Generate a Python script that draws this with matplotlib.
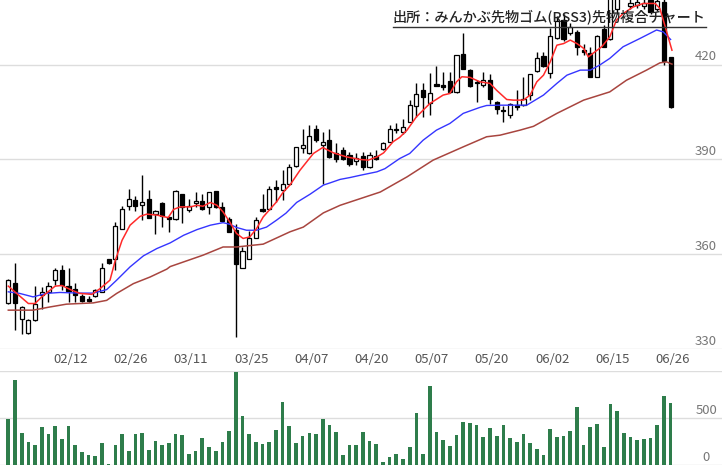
import matplotlib
matplotlib.use("Agg")
import matplotlib.pyplot as plt
from matplotlib.lines import Line2D

plt.rcParams['font.family'] = ['Noto Sans CJK JP', 'DejaVu Sans']

# OHLC (100 sessions)
opens = [344.6, 351.0, 339.6, 335.1, 339.3, 347.0, 348.2, 352.0, 354.9, 350.1,
         349.1, 346.7, 345.7, 346.8, 348.1, 358.4, 358.6, 368.1, 375.3, 377.1,
         375.7, 377.6, 372.9, 376.1, 371.6, 371.3, 379.0, 373.9, 376.1, 376.8,
         375.0, 380.0, 375.0, 371.3, 367.6, 355.7, 358.6, 365.3, 374.2, 374.2,
         381.3, 380.3, 382.4, 387.9, 393.5, 391.9, 399.8, 394.7, 396.1, 392.1,
         392.9, 391.4, 389.6, 391.0, 387.5, 391.0, 393.2, 395.6, 399.8, 398.8,
         402.0, 406.9, 411.9, 407.9, 413.8, 413.5, 414.8, 411.4, 423.4, 418.3,
         414.6, 413.5, 415.3, 408.2, 405.8, 404.0, 407.2, 407.2, 410.4, 418.0,
         422.7, 417.4, 428.4, 434.1, 429.9, 430.4, 424.6, 423.6, 416.2, 431.2,
         428.0, 437.5, 441.0, 438.5, 438.8, 438.6, 440.5, 437.5, 439.9, 422.3]
highs = [352.2, 357.2, 343.5, 339.5, 349.9, 349.6, 351.2, 355.5, 356.7, 355.5,
         350.9, 347.3, 346.7, 349.0, 357.2, 358.6, 370.2, 375.2, 380.6, 378.4,
         385.0, 380.5, 373.9, 376.4, 371.9, 380.3, 379.2, 377.6, 379.7, 379.0,
         379.8, 380.1, 376.4, 371.9, 369.7, 362.3, 367.3, 371.9, 379.2, 381.5,
         383.4, 386.8, 388.7, 394.0, 399.8, 400.9, 400.9, 398.7, 399.8, 395.3,
         394.0, 392.4, 391.9, 392.4, 392.4, 392.9, 395.5, 400.9, 401.4, 402.7,
         408.8, 414.1, 414.1, 417.4, 419.6, 417.8, 417.8, 423.2, 430.2, 418.5,
         415.1, 417.8, 417.1, 408.4, 406.9, 407.9, 412.0, 416.2, 417.2, 424.1,
         424.1, 431.5, 435.3, 436.0, 433.2, 431.0, 426.7, 425.7, 429.3, 432.5,
         443.0, 443.0, 445.0, 441.0, 441.0, 441.0, 442.0, 441.5, 441.0, 422.5]
lows = [344.3, 336.1, 334.9, 334.8, 339.0, 342.8, 344.9, 350.2, 348.6, 344.9,
        344.9, 345.0, 345.0, 346.5, 348.0, 357.0, 354.9, 368.0, 373.9, 373.7,
        370.8, 371.4, 366.5, 368.6, 367.1, 371.0, 370.0, 373.4, 375.0, 373.9,
        372.9, 374.8, 370.2, 366.9, 333.8, 355.5, 358.4, 365.1, 373.5, 374.0,
        376.6, 377.1, 382.2, 387.7, 391.9, 391.7, 395.6, 382.2, 390.6, 389.2,
        389.8, 387.9, 388.2, 386.6, 387.2, 389.8, 393.0, 395.4, 398.4, 398.0,
        401.8, 403.5, 403.5, 404.0, 413.2, 412.0, 411.2, 411.2, 418.6, 413.0,
        408.2, 412.8, 407.7, 404.5, 401.9, 403.0, 405.6, 407.0, 408.8, 417.8,
        419.3, 415.7, 428.2, 427.5, 429.4, 423.0, 423.0, 416.0, 416.0, 425.5,
        427.8, 436.0, 440.8, 437.5, 438.0, 437.5, 436.0, 437.0, 419.9, 406.3]
closes = [351.8, 344.6, 343.3, 339.3, 344.2, 348.2, 350.1, 354.9, 350.2, 348.3,
          347.0, 345.2, 345.3, 348.6, 355.8, 357.2, 368.9, 374.2, 377.6, 375.3,
          376.4, 371.6, 373.6, 372.0, 371.3, 380.0, 375.0, 375.2, 376.8, 374.2,
          379.7, 375.0, 370.5, 367.1, 356.8, 361.0, 365.0, 371.0, 373.7, 380.8,
          380.6, 382.1, 387.5, 393.8, 394.5, 397.4, 396.3, 395.6, 390.8, 390.3,
          390.0, 388.7, 390.6, 387.7, 391.4, 390.0, 395.3, 399.8, 399.3, 400.4,
          407.2, 410.7, 409.8, 411.1, 413.4, 413.0, 411.4, 423.0, 418.8, 413.2,
          414.1, 415.1, 409.0, 406.1, 405.4, 407.7, 406.7, 409.0, 417.0, 422.0,
          419.5, 429.1, 433.7, 428.3, 431.8, 425.7, 423.9, 416.2, 429.1, 425.7,
          441.0, 441.5, 443.0, 439.6, 439.8, 439.5, 436.8, 440.2, 421.2, 406.5]
volumes = [489, 904, 344, 248, 213, 404, 330, 415, 277, 415,
           213, 138, 106, 96, 234, 11, 213, 330, 149, 330,
           340, 160, 255, 213, 234, 330, 319, 117, 149, 287,
           191, 149, 245, 362, 989, 521, 330, 245, 223, 245,
           372, 670, 415, 234, 309, 340, 330, 489, 425, 351,
           106, 213, 213, 351, 255, 223, 32, 85, 117, 64,
           191, 553, 117, 840, 351, 266, 202, 319, 457, 447,
           425, 298, 394, 309, 425, 287, 245, 330, 234, 170,
           106, 383, 298, 309, 362, 617, 213, 404, 436, 191,
           649, 574, 340, 298, 266, 277, 287, 425, 734, 660]

# moving averages (session index, price)
ma_short_x = [0, 3, 4, 5, 7, 8, 9.5, 10.7, 12.5, 13.7, 15.2, 16, 17, 18.2, 19.7, 20.7,
              22.2, 23.9, 24.7, 25.7, 27.2, 28.2, 29.1, 30.2, 31.2, 32.1, 33.1, 34.1,
              35.1, 36.1, 37.1, 38.1, 39.1, 40.1, 41.1, 42.1, 43.6, 45.6, 47, 48.6,
              50.6, 52.6, 53.8, 55.1, 56.1, 57.5, 58.5, 59.6, 61, 63, 65, 66, 67, 67.8,
              69, 70.5, 72, 73, 74.5, 75.5, 77, 78, 79, 80, 81, 82, 83, 84, 85, 86,
              86.7, 87.7, 88.7, 89.9, 90.9, 91.9, 93.4, 94.9, 96.7, 97.4, 98.2, 99.2]
ma_short_v = [349.9, 344.4, 344.4, 346.5, 349.9, 350.1, 348.6, 347.6, 347.3, 349.1, 351.8,
              358.1, 364.4, 369.2, 372.0, 372.7, 372.4, 371.6, 374.2, 375.0, 375.0, 375.5,
              375.2, 376.4, 375.5, 373.4, 370.2, 366.6, 365.0, 365.5, 368.1, 371.8, 374.2,
              376.6, 379.7, 381.9, 386.6, 391.9, 393.8, 392.1, 390.8, 390.0, 389.8, 390.8,
              392.1, 395.6, 397.0, 399.3, 403.5, 407.7, 410.4, 410.9, 414.6, 416.2, 416.0,
              414.6, 414.1, 411.9, 409.0, 408.8, 408.8, 410.4, 414.6, 416.7, 420.9, 426.2,
              426.7, 427.8, 426.7, 425.2, 422.5, 424.1, 425.7, 428.8, 434.1, 436.2, 438.3,
              439.4, 439.4, 437.8, 432.0, 424.6]
ma_mid_x = [0, 1.7, 3.7, 5.7, 7.7, 10.7, 12.7, 14.7, 16.2, 18.2, 20.2, 22.2, 24.2, 26.2,
            28.2, 30.2, 32.1, 33.1, 34.1, 35.6, 37.1, 38.6, 40.1, 41.5, 43.1, 45.1, 47.1,
            48.1, 49.6, 51.1, 52.6, 55.1, 56.3, 58.5, 60, 62, 64, 66, 68, 70.5, 71.5,
            73.5, 77.5, 80, 82, 83.5, 85.5, 87, 88.4, 89.9, 91.9, 94.4, 96.9, 97.9, 99]
ma_mid_v = [348.1, 347.6, 346.5, 347.6, 347.9, 347.7, 347.7, 348.8, 351.8, 356.0, 359.5,
            361.8, 363.6, 366.0, 367.8, 369.2, 370.0, 369.5, 368.5, 367.6, 367.6, 368.6,
            370.8, 373.0, 376.4, 379.0, 381.9, 382.6, 383.7, 384.3, 385.0, 386.1, 387.1,
            390.3, 391.9, 396.1, 399.3, 401.4, 404.6, 406.5, 407.1, 407.2, 407.2, 410.4,
            414.1, 416.7, 418.3, 418.3, 419.9, 422.0, 425.7, 428.3, 431.0, 430.4, 428.0]
ma_long_x = [0, 3.7, 6.2, 8.7, 12.7, 14.7, 16.2, 18.7, 21.2, 23.7, 24.2, 29.1, 32.1,
             34.1, 38.1, 42.1, 44.1, 47.1, 49.6, 52.6, 55.6, 59.6, 63.5, 68, 71.5, 73.5,
             76.5, 78.5, 82, 86, 89.9, 92.4, 95.4, 97.4, 98.4, 99.2]
ma_long_v = [342.3, 342.3, 343.3, 344.2, 344.6, 345.4, 347.6, 350.7, 352.8, 355.3, 356.1,
             359.7, 362.3, 362.3, 363.2, 367.1, 368.6, 373.1, 375.5, 377.6, 379.7, 384.5,
             389.8, 394.0, 397.2, 397.7, 399.3, 400.5, 404.6, 408.8, 411.4, 415.1, 418.3,
             420.6, 420.9, 420.2]

tick_idx = [9, 18, 27, 36, 45, 54, 63, 72, 81, 90, 99]
tick_labels = ["02/12", "02/26", "03/11", "03/25", "04/07", "04/20",
               "05/07", "05/20", "06/02", "06/15", "06/26"]
price_ticks = [330, 360, 390, 420]
vol_ticks = [0, 500, 1000]

W, H = 722, 467
fig = plt.figure(figsize=(W / 100, H / 100), dpi=100)
ax = fig.add_axes([0, 118 / H, 1, 349 / H])
vax = fig.add_axes([0, 2 / H, 1, 94 / H])

x0 = -8.3 / 6.69
x1 = (W - 8.3) / 6.69
for a in (ax, vax):
    a.set_xlim(x0, x1)
    for s in a.spines.values():
        s.set_visible(False)
    a.set_xticks([])
    a.set_yticks([])
    a.patch.set_alpha(0)

ax.set_ylim(330, 440.5)
vax.set_ylim(0, 1000)

grid_c = "#dddddd"
for v in price_ticks:
    ax.axhline(v, color=grid_c, lw=1, zorder=0)
    ax.annotate(str(v), xy=(0.978, v), xycoords=("axes fraction", "data"),
                xytext=(0, 1), textcoords="offset points",
                ha="center", va="bottom", fontsize=9.5, color="#777777")
for v in vol_ticks:
    vax.axhline(v, color=grid_c, lw=1, zorder=0)
    if v < 1000:
        vax.annotate(str(v), xy=(0.978, v), xycoords=("axes fraction", "data"),
                     xytext=(0, 1), textcoords="offset points",
                     ha="center", va="bottom", fontsize=9.5, color="#777777")

idx = list(range(len(closes)))
ax.vlines(idx, lows, highs, color="black", lw=1, zorder=2)
bottoms = [min(o, c) for o, c in zip(opens, closes)]
heights = [max(abs(c - o), 0.35) for o, c in zip(opens, closes)]
faces = ["white" if c >= o else "black" for o, c in zip(opens, closes)]
ax.bar(idx, heights, bottom=bottoms, width=0.62, color=faces,
       edgecolor="black", linewidth=0.9, zorder=3)

ax.plot(ma_long_x, ma_long_v, color="#a8453f", lw=1.1, zorder=4)
ax.plot(ma_mid_x, ma_mid_v, color="#3535ff", lw=1.0, zorder=4)
ax.plot(ma_short_x, ma_short_v, color="#ff2a2a", lw=1.1, zorder=4)

for i, lab in zip(tick_idx, tick_labels):
    ax.annotate(lab, xy=(i + 0.3, 0), xycoords=("data", "axes fraction"),
                xytext=(0, -3), textcoords="offset points",
                ha="center", va="top", fontsize=9.5, color="#555555")

vax.bar(idx, volumes, width=0.55, color="#2e7d4b", zorder=2)

fig.text(705 / W, 1 - 18 / H, "出所：みんかぶ先物ゴム(RSS3)先物複合チャート",
         ha="right", va="center", fontsize=10.2, fontweight="medium",
         color="#222222", zorder=10)
fig.add_artist(Line2D([393 / W, 706 / W], [1 - 26.7 / H, 1 - 26.7 / H],
                      color="#333333", lw=1))

fig.savefig("out.png", dpi=100)
